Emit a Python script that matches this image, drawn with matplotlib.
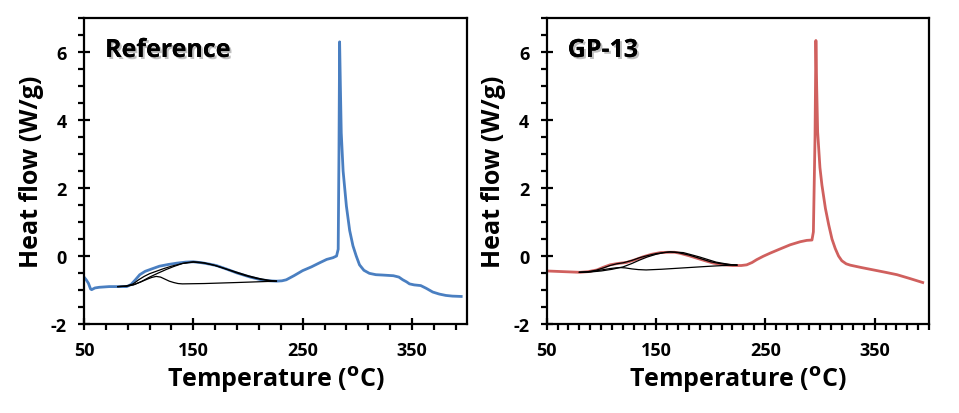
import matplotlib
matplotlib.use("Agg")
import matplotlib.pyplot as plt
import matplotlib.patheffects as pe
from matplotlib.ticker import MultipleLocator

plt.rcParams['font.family'] = ['Open Sans', 'DejaVu Sans']
plt.rcParams['font.weight'] = 'bold'
plt.rcParams['axes.unicode_minus'] = False
plt.rcParams['mathtext.default'] = 'regular'

# Reference sample (blue)
ref_t = [50, 52, 54, 56, 57, 60, 64, 73, 89, 93, 97, 101, 106, 112, 119, 127, 135, 143,
         150, 158, 165, 171, 180, 190, 202, 212, 220, 226, 231, 235, 242, 250, 258, 265.5,
         272, 277.7, 281, 282.5, 283.2, 283.8, 284.5, 285.3, 287, 290, 293, 296, 299, 302,
         306, 311, 317, 323, 333, 338, 341.6, 345, 347.7, 352, 358, 363, 369, 375, 381,
         387, 395]
ref_hf = [-0.62, -0.7, -0.8, -0.97, -0.99, -0.94, -0.92, -0.9, -0.9, -0.84, -0.7, -0.55,
          -0.45, -0.38, -0.3, -0.25, -0.21, -0.18, -0.17, -0.2, -0.24, -0.28, -0.38, -0.5,
          -0.62, -0.7, -0.73, -0.74, -0.73, -0.7, -0.58, -0.43, -0.32, -0.2, -0.1, -0.05,
          0.0, 0.2, 3.0, 6.3, 5.0, 3.62, 2.5, 1.47, 0.75, 0.3, 0.0, -0.26, -0.42, -0.51,
          -0.55, -0.56, -0.58, -0.62, -0.7, -0.76, -0.82, -0.85, -0.87, -0.95, -1.06,
          -1.12, -1.16, -1.18, -1.19]

# Reference deconvolution curves (black)
ref_fit_t = [81, 88, 95, 100, 105, 110, 116, 123, 130, 140, 150, 160, 170, 180, 190, 200,
             210, 218, 226]
ref_fit_hf = [-0.9, -0.89, -0.82, -0.7, -0.6, -0.52, -0.45, -0.37, -0.3, -0.22, -0.18,
              -0.21, -0.28, -0.38, -0.48, -0.58, -0.66, -0.71, -0.74]
ref_p1_t = [81, 90, 96, 102, 108, 112, 116, 120, 124, 128, 132, 136, 140, 160, 190, 226]
ref_p1_hf = [-0.9, -0.88, -0.84, -0.76, -0.68, -0.63, -0.6, -0.62, -0.68, -0.74, -0.78,
             -0.81, -0.82, -0.81, -0.78, -0.74]
ref_p2_t = [81, 88, 95, 102, 110, 118, 125, 132, 140, 145, 150, 155, 160, 168, 175, 183,
            190, 198, 205, 212, 218, 226]
ref_p2_hf = [-0.9, -0.89, -0.85, -0.76, -0.62, -0.5, -0.4, -0.31, -0.22, -0.19, -0.17,
             -0.18, -0.2, -0.26, -0.33, -0.42, -0.5, -0.58, -0.64, -0.69, -0.72, -0.74]

# GP-13 sample (red)
gp_t = [50, 65, 80.5, 88, 96, 102, 108, 115, 123, 131, 138.5, 146, 154, 161, 167, 172, 180,
        187, 195, 202.6, 212, 220, 228, 233, 238, 242, 248, 254.5, 263, 272.8, 282, 288,
        292.7, 294, 295.5, 296.3, 297, 297.9, 300, 301.8, 305, 308, 311, 314, 317, 320,
        324, 327.8, 338, 349, 360, 370.5, 382, 394]
gp_hf = [-0.44, -0.46, -0.48, -0.46, -0.41, -0.33, -0.26, -0.22, -0.19, -0.11, -0.02, 0.05,
         0.1, 0.11, 0.11, 0.08, 0.01, -0.06, -0.14, -0.21, -0.26, -0.28, -0.28, -0.26,
         -0.19, -0.11, -0.01, 0.085, 0.2, 0.33, 0.42, 0.46, 0.47, 0.71, 3.5, 6.34, 5.0,
         3.65, 2.6, 2.09, 1.4, 0.92, 0.5, 0.22, 0.0, -0.14, -0.23, -0.27, -0.34, -0.41,
         -0.48, -0.55, -0.66, -0.78]

# GP-13 deconvolution curves (black)
gp_fit_t = [80, 88, 95, 102, 108, 114, 120, 128, 135, 142, 150, 157, 163, 170, 180, 190,
            200, 208, 215, 224]
gp_fit_hf = [-0.48, -0.46, -0.42, -0.35, -0.28, -0.23, -0.2, -0.13, -0.05, 0.01, 0.07,
             0.1, 0.12, 0.1, 0.03, -0.07, -0.17, -0.22, -0.25, -0.27]
gp_p1_t = [80, 88, 95, 102, 108, 113, 117, 122, 128, 134, 141, 155, 170, 185, 200, 212, 224]
gp_p1_hf = [-0.48, -0.47, -0.44, -0.4, -0.37, -0.35, -0.34, -0.35, -0.38, -0.4, -0.41,
            -0.39, -0.36, -0.33, -0.3, -0.28, -0.26]
gp_p2_t = [80, 90, 100, 110, 120, 128, 135, 142, 150, 157, 163, 170, 175, 182, 190, 198,
           205, 212, 218, 224]
gp_p2_hf = [-0.48, -0.47, -0.44, -0.39, -0.32, -0.22, -0.12, -0.03, 0.05, 0.1, 0.12, 0.11,
            0.1, 0.04, -0.03, -0.11, -0.18, -0.22, -0.25, -0.27]

fig = plt.figure(figsize=(9.59, 4.14), dpi=100)
ax1 = fig.add_axes([0.0876, 0.215, 0.399, 0.739])
ax2 = fig.add_axes([0.570, 0.215, 0.399, 0.739])

panels = [
    (ax1, ref_t, ref_hf, '#4a7fc1', 'Reference', MultipleLocator(20, offset=10),
     [(ref_fit_t, ref_fit_hf), (ref_p1_t, ref_p1_hf), (ref_p2_t, ref_p2_hf)]),
    (ax2, gp_t, gp_hf, '#d0605e', 'GP-13', MultipleLocator(10),
     [(gp_fit_t, gp_fit_hf), (gp_p1_t, gp_p1_hf), (gp_p2_t, gp_p2_hf)]),
]

for ax, t, hf, col, name, xminor, fits in panels:
    ax.plot(t, hf, color=col, lw=2.0, zorder=2, solid_joinstyle='round')
    for ft, fh in fits:
        ax.plot(ft, fh, color='black', lw=0.9, zorder=3)
    ax.set_xlim(50, 400)
    ax.set_ylim(-2, 7)
    ax.xaxis.set_major_locator(MultipleLocator(100, offset=50))
    ax.xaxis.set_minor_locator(xminor)
    ax.yaxis.set_major_locator(MultipleLocator(2))
    ax.yaxis.set_minor_locator(MultipleLocator(0.5))
    ax.tick_params(which='major', direction='inout', length=9, width=1.6, labelsize=13, pad=8)
    ax.tick_params(which='minor', direction='out', length=4, width=1.6)
    ax.tick_params(top=False, right=False)
    for s in ax.spines.values():
        s.set_linewidth(1.6)
    for lab in ax.get_xticklabels() + ax.get_yticklabels():
        lab.set_fontweight('bold')
    ax.set_xlabel('Temperature ($^{\\mathbf{o}}$C)', fontsize=18, fontweight='bold', labelpad=3)
    ax.set_ylabel('Heat flow (W/g)', fontsize=18, fontweight='bold', labelpad=5)
    ax.text(0.055, 0.935, name, transform=ax.transAxes, fontsize=18, fontweight='bold',
            va='top', ha='left',
            path_effects=[pe.withSimplePatchShadow(offset=(1.5, -1.5), shadow_rgbFace='gray', alpha=0.5),
                          pe.Normal()])

fig.savefig('out.png', dpi=100)
